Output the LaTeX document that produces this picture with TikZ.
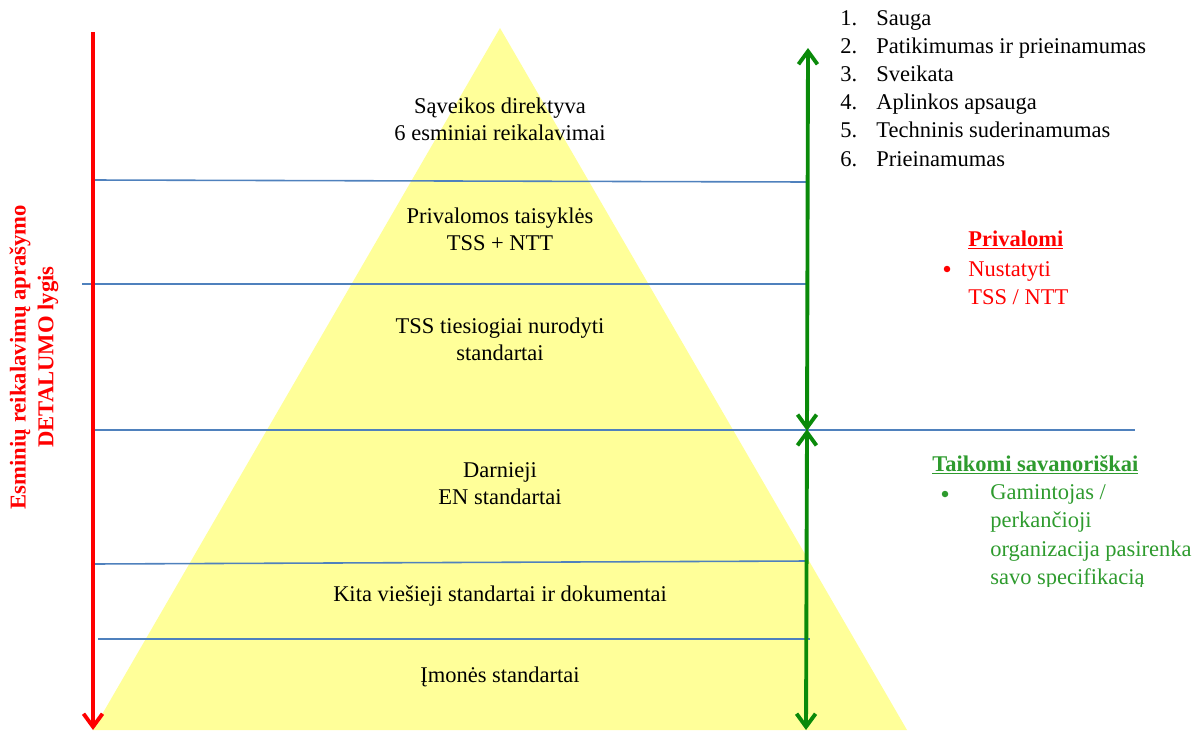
\documentclass[tikz,border=0pt]{standalone}
\usepackage{fontspec}
\setmainfont{Liberation Serif}
\usetikzlibrary{arrows.meta}
\definecolor{pyryellow}{HTML}{FFFF99}
\definecolor{levelblue}{HTML}{4F81BD}
\definecolor{axisred}{HTML}{FF0000}
\definecolor{axisgreen}{HTML}{0A8A0A}
\definecolor{notegreen}{HTML}{2E9B2E}
\tikzset{%
  % Specifications for style of nodes:
      pyrtext/.style = {align=center, inner sep=0pt,
                        font=\fontsize{12.8}{15.3}\selectfont},
     listtext/.style = {anchor=base west, inner sep=0pt,
                        font=\fontsize{12.8}{16}\selectfont},
     notetext/.style = {anchor=west, align=left, inner sep=0pt,
                        font=\fontsize{12.8}{16.2}\selectfont},
      rednote/.style = {notetext, text=axisred},
    greennote/.style = {notetext, text=notegreen},
       bullet/.style = {circle, inner sep=0pt, minimum size=0.13cm},
  % lines and arrows
        level/.style = {levelblue, line width=0.9pt},
      redaxis/.style = {axisred, line width=2.2pt,
                        -{Straight Barb[length=2.6mm,width=3.8mm]}},
    greenaxis/.style = {axisgreen, line width=2.2pt,
                        {Straight Barb[length=2.6mm,width=3.8mm]}-{Straight Barb[length=2.6mm,width=3.8mm]}},
}
\begin{document}
\begin{tikzpicture}[x=0.02cm, y=-0.02cm]
  \useasboundingbox (0,0) rectangle (1192,730);

  % The pyramid
  \fill[pyryellow] (500,28) -- (93,730) -- (907,730) -- cycle;

  % Level lines
  \draw[level] (93,180) -- (806,182);
  \draw[level] (82,284) -- (808,284);
  \draw[level] (93,430) -- (1135,430);
  \draw[level] (93,564) -- (806,561);
  \draw[level] (98,639) -- (810,639);

  % Specification of nodes (position, etc.)
  \node (directive) [pyrtext] at (500,119) {Sąveikos direktyva\\6 esminiai reikalavimai};
  \node (rules)     [pyrtext] at (500,229) {Privalomos taisyklės\\TSS + NTT};
  \node (tssstd)    [pyrtext] at (500,339) {TSS tiesiogiai nurodyti\\standartai};
  \node (enstd)     [pyrtext] at (500,484) {Darnieji\\EN standartai};
  \node (otherstd)  [pyrtext] at (500,596) {Kita viešieji standartai ir dokumentai};
  \node (companystd)[pyrtext] at (500,677) {Įmonės standartai};

  % Essential requirements
  \foreach \i/\req [count=\n from 0] in {1/Sauga, 2/Patikimumas ir prieinamumas,
      3/Sveikata, 4/Aplinkos apsauga, 5/Techninis suderinamumas, 6/Prieinamumas}{
    \node (num\i) [listtext] at (840,25+28.2*\n) {\i.};
    \node (req\i) [listtext] at (876,25+28.2*\n) {\req};
  }

  % Mandatory / voluntary notes
  \node (privhead) [rednote, anchor=base west] at (968,246) {\underline{\textbf{Privalomi}}};
  \node (privdot)  [bullet, fill=axisred] at (947,269) {};
  \node (privbody) [rednote] at (968,283) {Nustatyti\\TSS / NTT};

  \node (volhead)  [greennote, anchor=base west] at (932,471) {\underline{\textbf{Taikomi savanoriškai}}};
  \node (voldot)   [bullet, fill=notegreen] at (945,494) {};
  \begin{scope}
    \clip (900,440) rectangle (1192,586);
    \node (volbody) [greennote] at (990,537)
      {Gamintojas /\\perkančioji\\organizacija pasirenka\\savo specifikacią};
  \end{scope}

  % Left axis
  \coordinate (redtop) at (93,32);
  \coordinate (redbot) at (93,730);
  \draw[redaxis] (redtop) -- (redbot);
  \node (detail) [rotate=90, align=center, inner sep=0pt, text=axisred,
        font=\fontsize{12.9}{15.9}\selectfont\bfseries] at (34,357)
        {Esminių reikalavimų aprašymo\\DETALUMO lygis};

  % Right axis
  \coordinate (grtop) at (808,48);
  \coordinate (grmid) at (807,430);
  \coordinate (grbot) at (806,730);
  \draw[greenaxis] ([yshift=-0.5pt]grmid) -- (grtop);
  \draw[greenaxis] ([yshift=0.5pt]grmid) -- (grbot);
\end{tikzpicture}
\end{document}
